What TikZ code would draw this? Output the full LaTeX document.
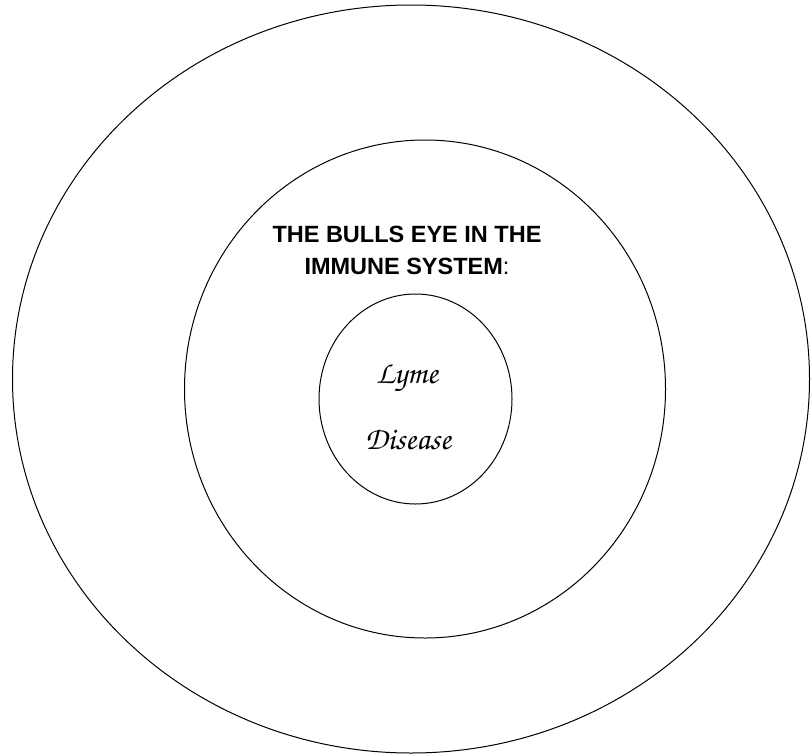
\documentclass[tikz,border=0pt]{standalone}
\usepackage[T1]{fontenc}
\usepackage{fontspec}
\setmainfont{Liberation Sans}
\usepackage{tikz}
\usetikzlibrary{shapes.geometric, positioning}

\newcommand{\lymefont}{\fontencoding{T1}\fontfamily{pzc}\fontseries{mb}\fontshape{it}\fontsize{32}{36}\selectfont}

\begin{document}
\begin{tikzpicture}[x=1pt, y=-1pt,
  ring/.style={ellipse, draw, line width=1pt, inner sep=0pt},
  heading/.style={font=\fontsize{23.5}{32}\selectfont\bfseries, align=center},
  cursive/.style={font=\lymefont, inner sep=0pt}
]
  \useasboundingbox (0,0) rectangle (811,755);
  \node[ring, minimum width=797pt, minimum height=748pt] (outer) at (411,379) {};
  \node[ring, minimum width=481pt, minimum height=498pt] (middle) at (425,389) {};
  \node[ring, minimum width=193pt, minimum height=210pt] (inner) at (415.5,399) {};
  \node[heading] (title) at (407,250) {THE BULLS EYE IN THE\\IMMUNE SYSTEM\textmd{:}};
  \node[cursive] (lyme) at (407,379) {Lyme};
  \node[cursive] (disease) at (408,439) {Disease};
\end{tikzpicture}
\end{document}
